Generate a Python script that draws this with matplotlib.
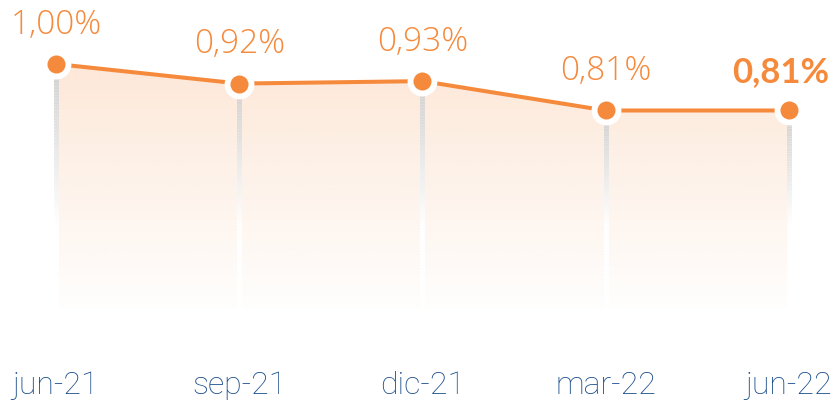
import matplotlib.pyplot as plt
import numpy as np
from matplotlib.collections import LineCollection
from matplotlib.colors import to_rgb

# data
periods = ['jun-21', 'sep-21', 'dic-21', 'mar-22', 'jun-22']
ratio = [1.00, 0.92, 0.93, 0.81, 0.81]
ratio_labels = ['1,00%', '0,92%', '0,93%', '0,81%', '0,81%']

orange = '#f58a3c'
blue = '#164a8a'

fig = plt.figure(figsize=(8.39, 4.07), dpi=100)
ax = fig.add_axes([0, 47 / 407, 1, 360 / 407])

x = np.arange(len(periods))
y = np.array(ratio)

# gradient fill under the line
grad = np.linspace(0.2, 0.01, 256)
rgba = np.zeros((256, 1, 4))
rgba[..., :3] = to_rgb(orange)
rgba[:, 0, 3] = grad
img = ax.imshow(rgba, extent=[x[0], x[-1], 0, y.max()], aspect='auto',
                origin='upper', zorder=1, interpolation='bilinear')
poly = ax.fill_between(x, y, 0, color='none', lw=0)
img.set_clip_path(poly.get_paths()[0], transform=ax.transData)

# vertical drop lines, grey fading to white
gray = np.array(to_rgb('#d0d0d0'))
for xi, yi in zip(x, y):
    ys = np.linspace(yi, 0, 80)
    segs = [[(xi, ys[k]), (xi, ys[k + 1])] for k in range(len(ys) - 1)]
    t = np.clip((yi - ys[:-1]) / (yi - 0.35), 0, 1)[:, None]
    cols = gray * (1 - t) + np.ones(3) * t
    ax.add_collection(LineCollection(segs, colors=cols, linewidths=3.6, zorder=2))

ax.plot(x, y, color=orange, lw=2.9, zorder=3, solid_capstyle='round')
ax.scatter(x, y, s=21.5 ** 2, color='white', zorder=4, linewidths=0)
ax.scatter(x, y, s=13 ** 2, color=orange, zorder=5, linewidths=0)

for i, (xi, yi, lab) in enumerate(zip(x, y, ratio_labels)):
    last = i == len(x) - 1
    ax.annotate(lab, (xi, yi), xytext=(-6 if last else 0, 28),
                textcoords='offset points', ha='center', va='center',
                color=orange, fontsize=25 if last else 24,
                family='Lato' if last else 'Open Sans',
                fontweight='bold' if last else 'light')

ax.set_xlim(-56 / 183.25, 4 + 50 / 183.25)
ax.set_ylim(1 - 296 / 244.7, 1 + 64 / 244.7)
ax.set_xticks(x)
ax.set_xticklabels(periods, fontsize=23, color=blue, family='Roboto',
                   fontweight='light')
ax.tick_params(axis='x', length=0, pad=8)
ax.set_yticks([])
for s in ax.spines.values():
    s.set_visible(False)

fig.savefig('out.png', dpi=100)
